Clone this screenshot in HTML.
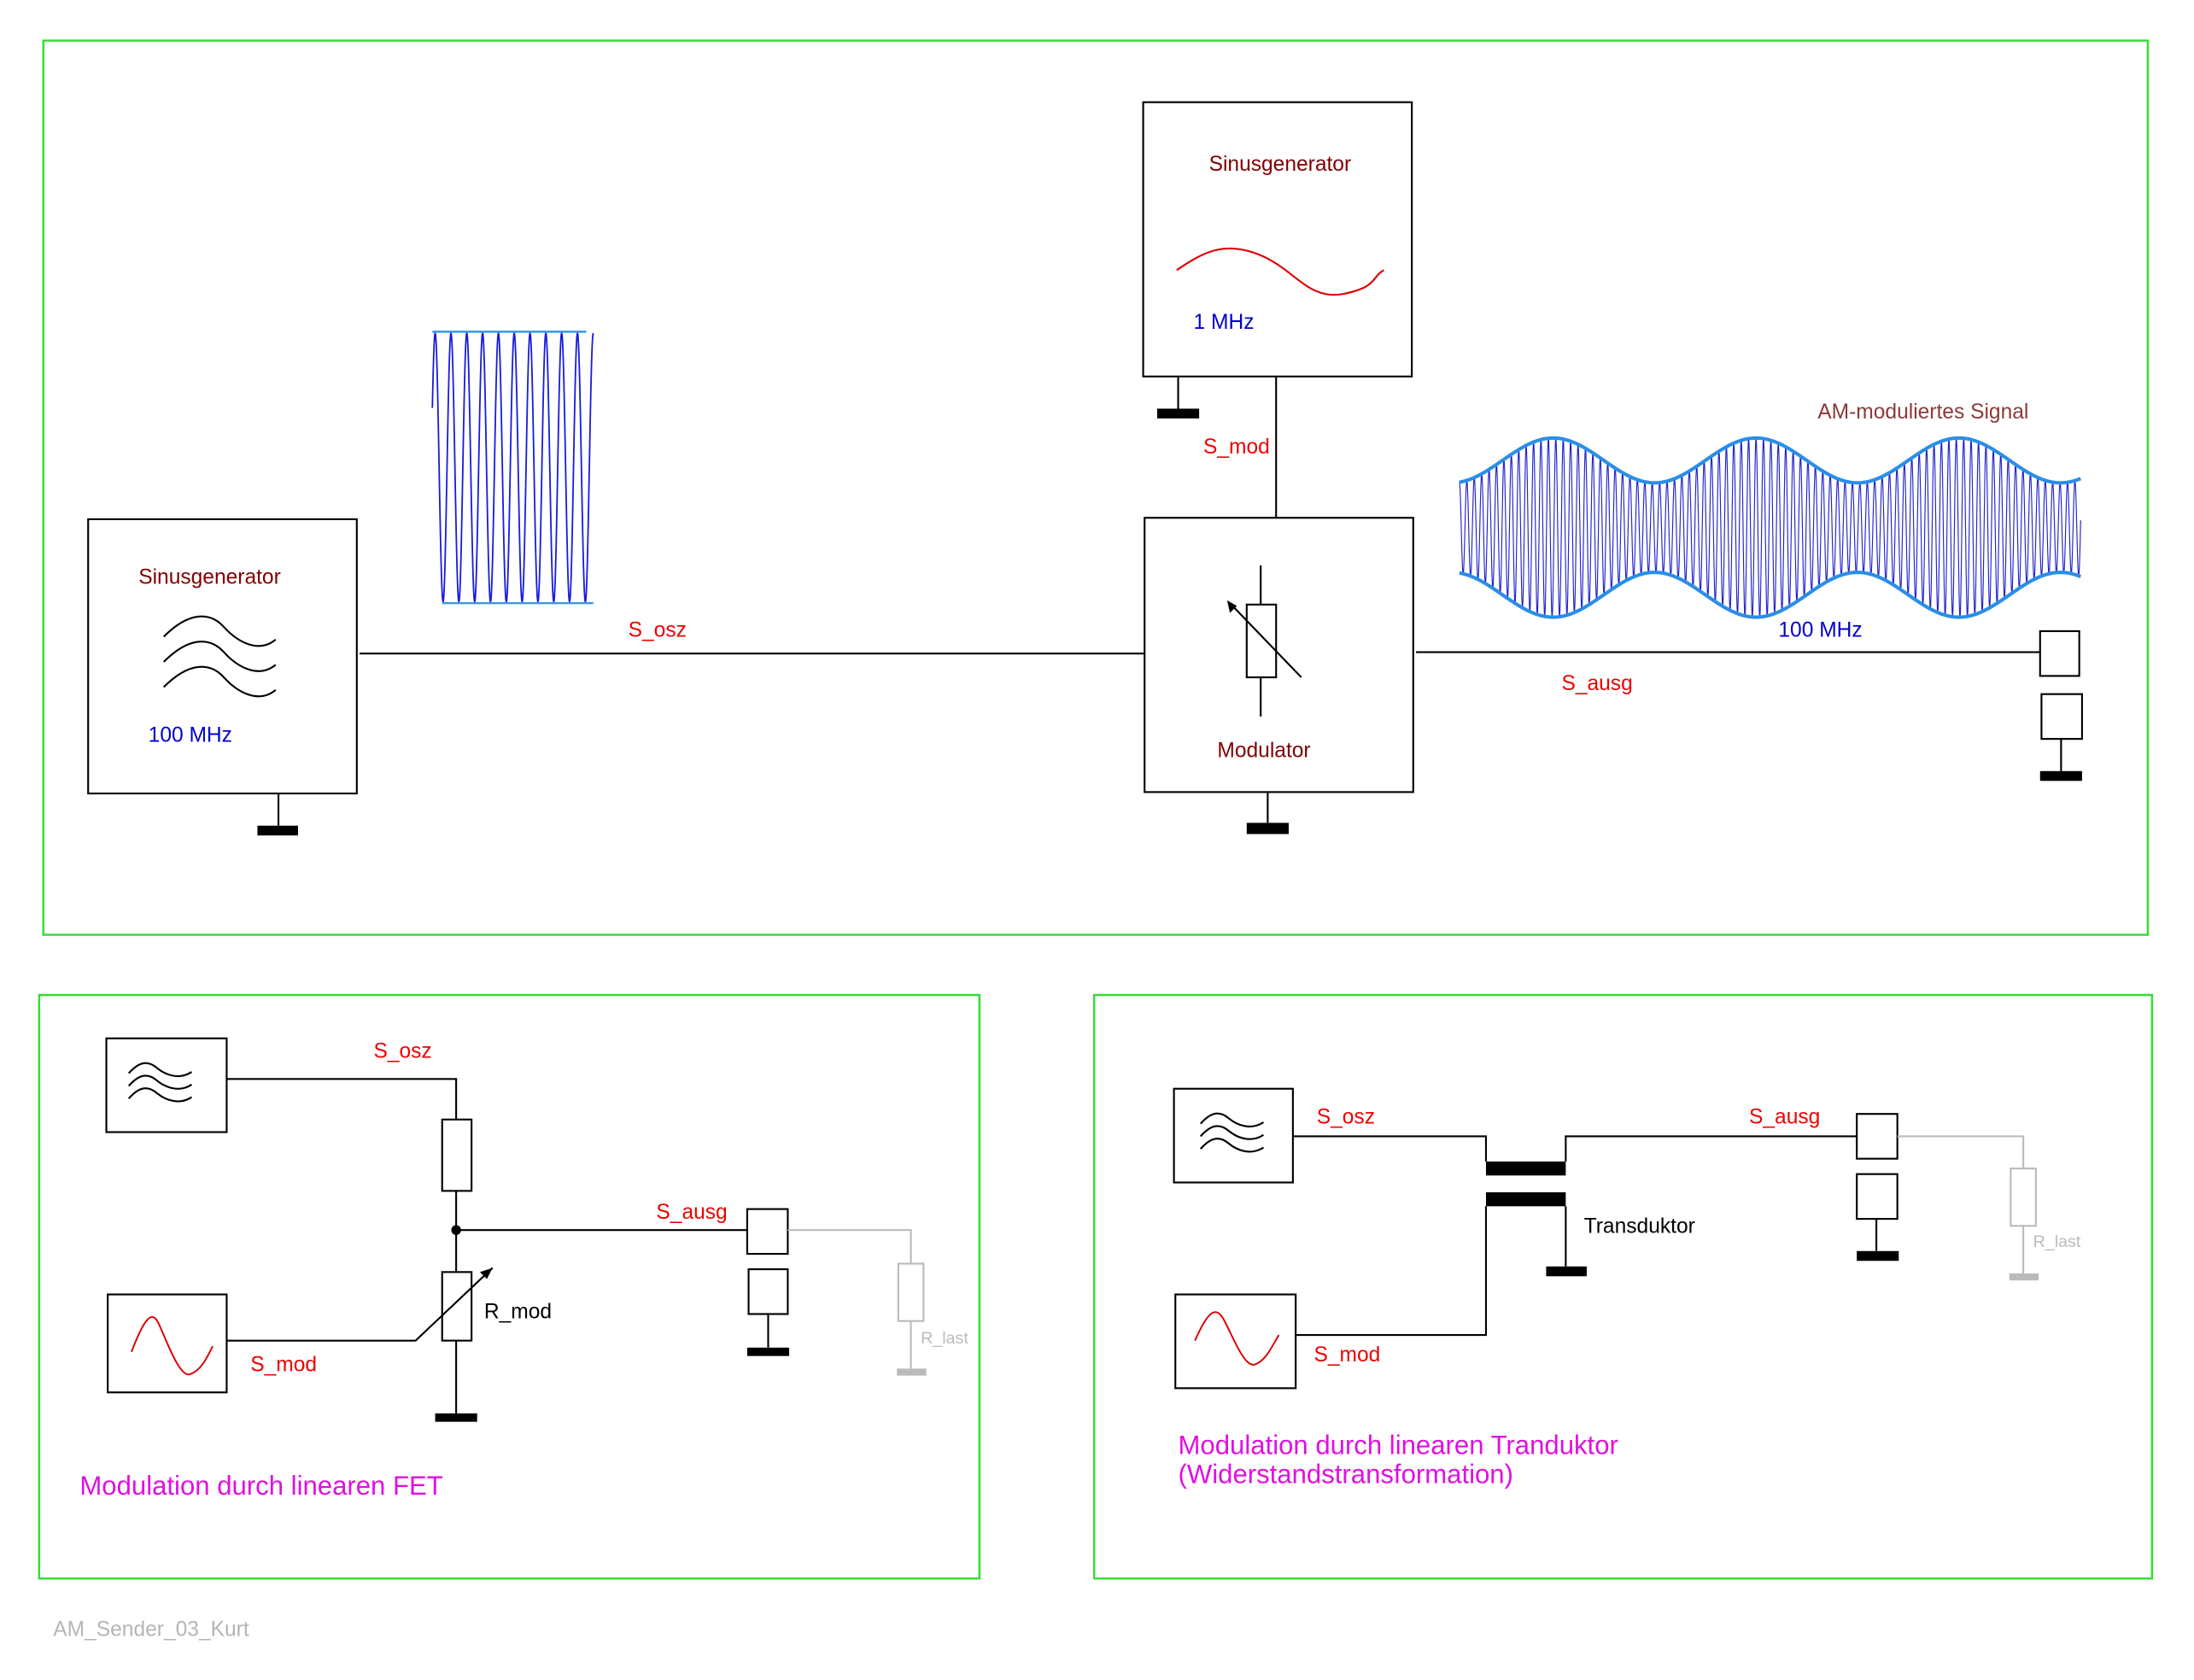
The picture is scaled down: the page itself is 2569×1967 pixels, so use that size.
<!DOCTYPE html>
<html><head><meta charset="utf-8"><style>
html,body{margin:0;padding:0;background:#fff;}
svg{display:block;}
text{font-family:"Liberation Sans",sans-serif;}
</style></head><body>
<svg id="s" width="2569" height="1967" viewBox="0 0 1568 1200.5" xmlns="http://www.w3.org/2000/svg">
<rect width="1568" height="1201" fill="#fff"/>
<g fill="none" stroke="#33dd33" stroke-width="1.5">
<rect x="31" y="29" width="1504" height="639"/>
<rect x="28" y="711" width="672" height="417"/>
<rect x="782" y="711" width="756" height="417"/>
</g>
<g fill="none" stroke="#000" stroke-width="1.3">
<rect x="63" y="371" width="192" height="196"/>
<path d="M117,455 C135,437 150,437 160,448 S185,467 197,457"/>
<path d="M117,473 C135,455 150,455 160,466 S185,485 197,475"/>
<path d="M117,491 C135,473 150,473 160,484 S185,503 197,493"/>
<path d="M199,567 V590"/>
<path d="M257,467 H818"/>
<rect x="818" y="370" width="192" height="196"/>
<path d="M901,404 V432 M901,484 V512"/>
<rect x="891" y="432" width="21" height="52"/>
<path d="M930,484 L879,431"/>
<path d="M906,566 V588"/>
<rect x="817" y="73" width="192" height="196"/>
<path d="M842,269 V292 M912,269 V370"/>
<path d="M1012,466 H1458"/>
<rect x="1458" y="451" width="28" height="32"/>
<rect x="1459" y="496" width="29" height="32"/>
<path d="M1473,528 V551"/>
<rect x="76" y="742" width="86" height="67"/>
<path d="M92,767 C100,758 106,758 112,763 S128,772 137,766"/>
<path d="M92,776 C100,767 106,767 112,772 S128,781 137,775"/>
<path d="M92,785 C100,776 106,776 112,781 S128,790 137,784"/>
<path d="M162,771 H326 V800 M326,851 V909 M326,879 H534 M326,958 V1010"/>
<rect x="316" y="800" width="21" height="51"/>
<rect x="316" y="909" width="21" height="49"/>
<path d="M162,958 H297 L352,906"/>
<rect x="77" y="925" width="85" height="70"/>
<rect x="534" y="864" width="29" height="32"/>
<rect x="535" y="907" width="28" height="32"/>
<path d="M549,939 V963"/>
<rect x="839" y="778" width="85" height="67"/>
<path d="M858,803 C866,794 872,794 878,799 S894,808 903,802"/>
<path d="M858,812 C866,803 872,803 878,808 S894,817 903,811"/>
<path d="M858,821 C866,812 872,812 878,817 S894,826 903,820"/>
<path d="M924,812 H1062 V830 M1119,830 V812 H1327 M1062,862 V954 H926 M1119,862 V905"/>
<rect x="840" y="925" width="86" height="67"/>
<rect x="1327" y="796" width="29" height="32"/>
<rect x="1327" y="839" width="29" height="32"/>
<path d="M1341,871 V894"/>
</g>
<path d="M877,429 l2,9 l5,-5z" fill="#000"/>
<path d="M352,906 l-9,3 l5,5z" fill="#000"/>
<circle cx="326" cy="879" r="3.5" fill="#000"/>
<g fill="#000">
<rect x="184" y="590" width="29" height="7"/>
<rect x="891" y="588" width="30" height="8"/>
<rect x="827" y="292" width="30" height="7"/>
<rect x="1458" y="551" width="30" height="7"/>
<rect x="311" y="1010" width="30" height="6"/>
<rect x="534" y="963" width="30" height="6"/>
<rect x="1062" y="830" width="57" height="10"/>
<rect x="1062" y="852" width="57" height="10"/>
<rect x="1105" y="905" width="29" height="7"/>
<rect x="1327" y="894" width="30" height="7"/>
</g>
<g fill="none" stroke="#bbb" stroke-width="1.3">
<path d="M563,879 H651 V903 M651,944 V978"/>
<rect x="642" y="903" width="18" height="41"/>
<path d="M1356,812 H1446 V835 M1446,876 V910"/>
<rect x="1437" y="835" width="18" height="41"/>
</g>
<rect x="641" y="978" width="21" height="5" fill="#bbb"/>
<rect x="1436" y="910" width="21" height="5" fill="#bbb"/>
<path d="M841,193 C860,180 875,172 900,182 S935,215 960,210 S980,198 989,193" fill="none" stroke="#d00" stroke-width="1.3"/>
<path d="M94,966 C102,945 108,935 113,945 S128,985 136,982 S148,970 152,962" fill="none" stroke="#d00" stroke-width="1.2"/>
<path d="M854,958 C862,940 868,932 874,942 S889,978 897,975 S909,962 914,954" fill="none" stroke="#d00" stroke-width="1.2"/>
<path id="car" fill="none" stroke="#1a1add" stroke-width="1.1"/>
<path d="M309,237 H419 M316,431 H424" stroke="#3a9ae0" stroke-width="1.5"/>
<path id="am" fill="none" stroke="#2222cc" stroke-width="0.7"/>
<path id="env" fill="none" stroke="#2a8ee8" stroke-width="2.5"/>
<g font-size="15">
<text x="99" y="417" fill="#800000">Sinusgenerator</text>
<text x="106" y="530" fill="#0000cc">100 MHz</text>
<text x="449" y="455" fill="#e00">S_osz</text>
<text x="864" y="122" fill="#800000">Sinusgenerator</text>
<text x="853" y="235" fill="#0000cc">1 MHz</text>
<text x="860" y="324" fill="#e00">S_mod</text>
<text x="870" y="541" fill="#800000">Modulator</text>
<text x="1299" y="299" fill="#8b3a3a">AM-moduliertes Signal</text>
<text x="1271" y="455" fill="#0000cc">100 MHz</text>
<text x="1116" y="493" fill="#e00">S_ausg</text>
<text x="267" y="756" fill="#e00">S_osz</text>
<text x="469" y="871" fill="#e00">S_ausg</text>
<text x="346" y="942" fill="#000">R_mod</text>
<text x="179" y="980" fill="#e00">S_mod</text>
<text x="941" y="803" fill="#e00">S_osz</text>
<text x="1250" y="803" fill="#e00">S_ausg</text>
<text x="1132" y="881" fill="#000">Transduktor</text>
<text x="939" y="973" fill="#e00">S_mod</text>
<text x="38" y="1169" fill="#b5b5b5">AM_Sender_03_Kurt</text>
</g>
<g font-size="12" fill="#bbb">
<text x="658" y="960">R_last</text>
<text x="1453" y="891">R_last</text>
</g>
<g font-size="19" fill="#e010e0">
<text x="57" y="1068">Modulation durch linearen FET</text>
<text x="842" y="1039">Modulation durch linearen Tranduktor</text>
<text x="842" y="1060">(Widerstandstransformation)</text>
</g>
</svg>
<script>
(function(){
var d="";for(var i=0;i<=460;i++){var x=309+i*0.25;var y=334-96*Math.cos(2*Math.PI*(x-311)/11.3);d+=(i?"L":"M")+x.toFixed(2)+","+y.toFixed(2);}
document.getElementById("car").setAttribute("d",d);
function A(x){return 48+16*Math.cos(2*Math.PI*(x-1110)/145);}
var a="";for(var i=0;i<=4440;i++){var x=1043+i*0.1;var y=377-A(x)*Math.cos(2*Math.PI*(x-1043)/5.3);a+=(i?"L":"M")+x.toFixed(2)+","+y.toFixed(2);}
document.getElementById("am").setAttribute("d",a);
var e="",f="";for(var i=0;i<=444;i++){var x=1043+i;e+=(i?"L":"M")+x+","+(377-A(x)).toFixed(2);f+=(i?"L":"M")+x+","+(377+A(x)).toFixed(2);}
document.getElementById("env").setAttribute("d",e+f);
})();
</script>
</body></html>
